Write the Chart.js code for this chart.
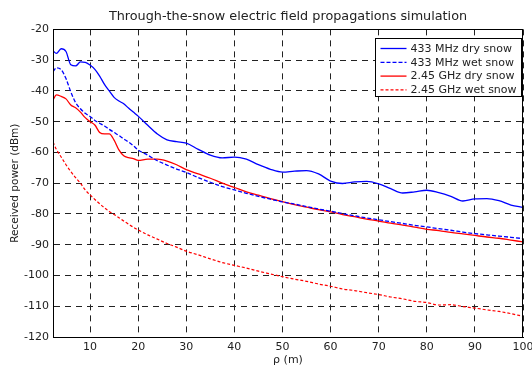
<!DOCTYPE html>
<html>
<head>
<meta charset="utf-8">
<script src="https://cdn.jsdelivr.net/npm/chart.js@4/dist/chart.umd.min.js"></script>
<style>
  html, body { margin: 0; padding: 0; background: #fff; }
  #wrap { width: 532px; height: 367px; }
</style>
</head>
<body>
<div id="wrap"><canvas id="chart"></canvas></div>
<script>
// distance rho (m)
const distance = [2.3, 3, 4, 5, 6, 7, 8, 9, 10, 11, 12, 13, 14, 15, 16, 17, 18, 19, 20,
  22, 24, 26, 28, 30, 32.5, 35, 37.5, 40, 42.5, 45, 47.5, 50, 52.5, 55, 57.5, 60,
  62.5, 65, 67.5, 70, 72.5, 75, 77.5, 80, 82.5, 85, 87.5, 90, 92.5, 95, 97.5, 100];

// received power (dBm)
const dry433 = [-27.0, -27.8, -26.3, -27.2, -31.5, -31.9, -30.6, -30.7, -31.6, -33.0, -35.2, -37.9, -40.0, -42.1, -43.3, -44.2, -45.6, -46.9, -48.2,
  -51.2, -54.0, -55.9, -56.5, -57.0, -59.0, -60.9, -61.8, -61.5, -62.2, -64.0, -65.5, -66.4, -66.1, -65.9, -67.0, -69.3,
  -70.1, -69.6, -69.4, -70.2, -71.8, -73.2, -72.8, -72.3, -73.1, -74.3, -75.8, -75.1, -75.0, -75.7, -77.1, -77.9];
const wet433 = [-33.8, -32.5, -33.1, -36.0, -40.3, -43.8, -45.8, -47.3, -48.3, -49.6, -50.5, -51.4, -52.5, -53.5, -54.5, -55.6, -56.6, -57.8, -59.2,
  -60.9, -62.7, -64.1, -65.4, -66.5, -68.2, -69.7, -71.1, -72.2, -73.3, -74.3, -75.2, -76.1, -76.8, -77.6, -78.4, -79.1,
  -79.9, -80.6, -81.3, -81.9, -82.5, -83.1, -83.7, -84.2, -84.8, -85.3, -85.9, -86.4, -86.8, -87.2, -87.6, -88.0];
const dry245 = [-43.0, -41.3, -41.8, -42.6, -44.6, -45.5, -46.9, -48.7, -50.0, -51.1, -53.5, -54.0, -54.0, -56.0, -59.2, -61.1, -61.7, -62.0, -62.6,
  -62.2, -62.2, -62.8, -64.0, -65.6, -67.0, -68.4, -70.0, -71.4, -72.8, -73.9, -75.0, -76.0, -77.0, -77.8, -78.6, -79.3,
  -80.2, -80.9, -81.7, -82.3, -83.0, -83.6, -84.3, -85.0, -85.4, -86.0, -86.5, -87.0, -87.5, -87.9, -88.5, -89.1];
const wet245 = [-56.6, -59.0, -61.5, -64.0, -66.2, -68.2, -70.0, -72.2, -73.8, -75.3, -76.7, -78.0, -79.2, -80.2, -81.2, -82.3, -83.3, -84.3, -85.2,
  -86.8, -88.2, -89.6, -90.8, -92.1, -93.3, -94.6, -95.8, -96.7, -97.6, -98.6, -99.5, -100.4, -101.2, -101.9, -102.8, -103.5,
  -104.4, -104.9, -105.6, -106.2, -107.0, -107.6, -108.4, -108.8, -109.6, -109.5, -110.1, -110.6, -111.2, -111.7, -112.4, -113.3];

const seriesNames = ['433 MHz dry snow', '433 MHz wet snow', '2.45 GHz dry snow', '2.45 GHz wet snow'];
const xTicks = [10, 20, 30, 40, 50, 60, 70, 80, 90, 100];

const FONT = 'DejaVu Sans';

function pts(ys) {
  return distance.map((x, i) => ({ x: x, y: ys[i] }));
}

// box around the plot and legend inside upper right
const framePlugin = {
  id: 'frame',
  afterDraw(chart) {
    const ctx = chart.ctx;
    const a = chart.chartArea;
    ctx.save();
    ctx.strokeStyle = '#000';
    ctx.lineWidth = 1;
    ctx.strokeRect(Math.round(a.left) + 0.5, Math.round(a.top) + 0.5,
      Math.round(a.right - a.left) - 1, Math.round(a.bottom - a.top));

    // legend
    const bx = 375.5, by = 38.5, bw = 146, bh = 58;
    ctx.fillStyle = '#fff';
    ctx.fillRect(bx, by, bw, bh);
    ctx.strokeRect(bx, by, bw, bh);
    ctx.font = '11px "' + FONT + '"';
    ctx.textBaseline = 'middle';
    chart.data.datasets.forEach((ds, i) => {
      const y = by + 10 + i * 13.8;
      ctx.strokeStyle = ds.borderColor;
      ctx.lineWidth = 1.3;
      ctx.setLineDash(ds.borderDash || []);
      ctx.beginPath();
      ctx.moveTo(bx + 5, y);
      ctx.lineTo(bx + 31, y);
      ctx.stroke();
      ctx.setLineDash([]);
      ctx.fillStyle = '#222';
      ctx.fillText(ds.label, bx + 35, y + 0.5);
    });
    ctx.restore();
  }
};

new Chart(document.getElementById('chart'), {
  type: 'line',
  data: {
    datasets: [
      { label: seriesNames[0], data: pts(dry433), borderColor: '#0000ff', borderWidth: 1.3 },
      { label: seriesNames[1], data: pts(wet433), borderColor: '#0000ff', borderWidth: 1.3, borderDash: [4, 2] },
      { label: seriesNames[2], data: pts(dry245), borderColor: '#ff0000', borderWidth: 1.3 },
      { label: seriesNames[3], data: pts(wet245), borderColor: '#ff0000', borderWidth: 1.2, borderDash: [3, 2] }
    ]
  },
  options: {
    responsive: true,
    maintainAspectRatio: false,
    animation: false,
    layout: { padding: { left: 0, right: 9, top: 0, bottom: 0 } },
    elements: {
      point: { radius: 0 },
      line: { tension: 0.35, cubicInterpolationMode: 'monotone' }
    },
    plugins: {
      legend: { display: false },
      tooltip: { enabled: false },
      title: {
        display: true,
        fullSize: false,
        text: 'Through-the-snow electric field propagations simulation',
        color: '#222',
        font: { family: FONT, size: 12.8, weight: 'normal' },
        padding: { top: 9, bottom: 5 }
      }
    },
    scales: {
      x: {
        type: 'linear',
        min: 2.3,
        max: 100,
        afterBuildTicks(scale) {
          scale.ticks = xTicks.map(v => ({ value: v }));
        },
        afterFit(scale) {
          scale.height = 30;
          scale.paddingLeft = 0;
          scale.paddingRight = 0;
        },
        grid: { color: '#222', lineWidth: 1, drawTicks: false },
        border: { display: true, color: '#000', width: 1, dash: [6, 5] },
        ticks: { color: '#222', font: { family: FONT, size: 11 }, padding: 4, maxRotation: 0 },
        title: {
          display: true,
          text: 'ρ (m)',
          color: '#222',
          font: { family: FONT, size: 11 },
          padding: { top: 1, bottom: 0 }
        }
      },
      y: {
        min: -120,
        max: -20,
        ticks: { stepSize: 10, color: '#222', font: { family: FONT, size: 11 }, padding: 4 },
        afterFit(scale) {
          scale.width = 53;
          scale.paddingTop = 0;
          scale.paddingBottom = 0;
        },
        grid: { color: '#222', lineWidth: 1, drawTicks: false },
        border: { display: true, color: '#000', width: 1, dash: [6, 5] },
        title: {
          display: true,
          text: 'Received power (dBm)',
          color: '#222',
          font: { family: FONT, size: 10.5 },
          padding: { top: 9, bottom: 0 }
        }
      }
    }
  },
  plugins: [framePlugin]
});
</script>
</body>
</html>
